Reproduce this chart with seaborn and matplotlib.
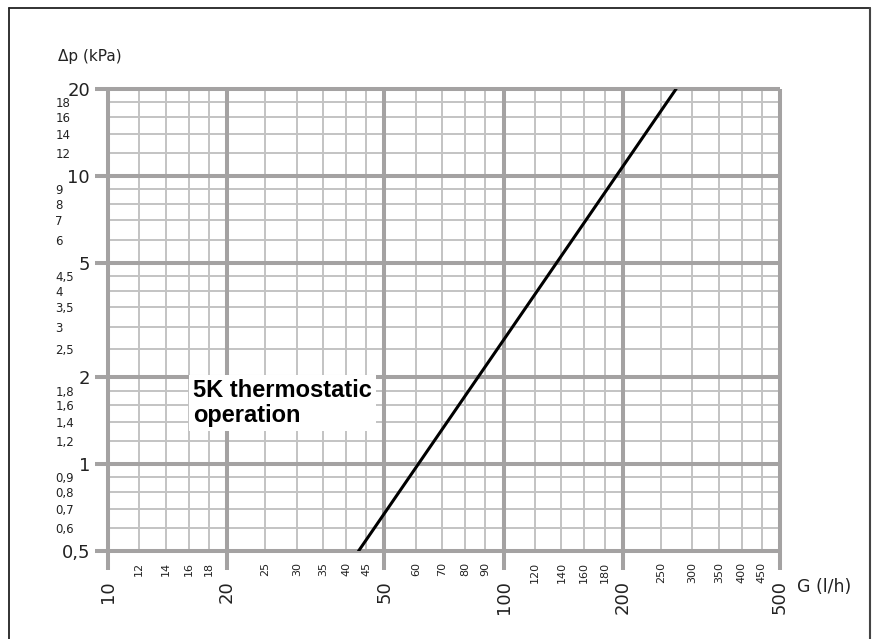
import matplotlib
matplotlib.use("Agg")
import matplotlib.pyplot as plt
import seaborn as sns
import pandas as pd
from matplotlib.lines import Line2D

# ---- data ----
flow_lh = [43.0, 273.0]          # G (l/h)
dp_kpa = [0.5, 20.0]             # Δp (kPa)

x_major = [10, 20, 50, 100, 200, 500]
x_major_labels = ["10", "20", "50", "100", "200", "500"]
x_minor = [12, 14, 16, 18, 25, 30, 35, 40, 45, 60, 70, 80, 90,
           120, 140, 160, 180, 250, 300, 350, 400, 450]
x_minor_labels = ["12", "14", "16", "18", "25", "30", "35", "40", "45", "60", "70", "80", "90",
                  "120", "140", "160", "180", "250", "300", "350", "400", "450"]

y_major = [0.5, 1, 2, 5, 10, 20]
y_major_labels = ["0,5", "1", "2", "5", "10", "20"]
y_minor = [0.6, 0.7, 0.8, 0.9, 1.2, 1.4, 1.6, 1.8, 2.5, 3, 3.5, 4, 4.5,
           6, 7, 8, 9, 12, 14, 16, 18]
y_minor_labels = ["0,6", "0,7", "0,8", "0,9", "1,2", "1,4", "1,6", "1,8", "2,5", "3", "3,5", "4", "4,5",
                  "6", "7", "8", "9", "12", "14", "16", "18"]

curve_label = "5K thermostatic\noperation"
x_title = "G (l/h)"
y_title = "Δp (kPa)"

df = pd.DataFrame({"G": flow_lh, "dp": dp_kpa})

sns.set_style("white")
plt.rcParams["font.family"] = ["DejaVu Sans"]

W, H = 875, 639
fig = plt.figure(figsize=(W / 100, H / 100), dpi=100)
L, R, T, B = 108, 780, 89, 551
ax = fig.add_axes([L / W, (H - B) / H, (R - L) / W, (B - T) / H])

ax.set_xscale("log")
ax.set_yscale("log")
ax.set_xlim(10, 500)
ax.set_ylim(0.5, 20)
for s in ax.spines.values():
    s.set_visible(False)

major_c = "#a4a2a2"
minor_c = "#c3c3c3"
major_lw = 2.9
minor_lw = 1.4

for v in x_minor:
    ax.axvline(v, color=minor_c, lw=minor_lw, zorder=1)
for v in y_minor:
    ax.axhline(v, color=minor_c, lw=minor_lw, zorder=1)
for v in x_major:
    ax.axvline(v, ymin=-0.041, ymax=1.0, color=major_c, lw=major_lw,
               zorder=2, clip_on=False, solid_capstyle="butt")
for v in y_major:
    ax.axhline(v, xmin=-0.019, xmax=1.0, color=major_c, lw=major_lw,
               zorder=2, clip_on=False, solid_capstyle="butt")

sns.lineplot(data=df, x="G", y="dp", ax=ax, color="black", lw=2.2,
             zorder=5, legend=False)
ax.set_xlabel("")
ax.set_ylabel("")

# ticks
ax.set_xticks(x_major)
ax.set_xticklabels(x_major_labels, rotation=90, fontsize=13, va="top", ha="center")
ax.set_xticks(x_minor, minor=True)
ax.set_xticklabels(x_minor_labels, minor=True, rotation=90, fontsize=8, va="top", ha="center")
ax.set_yticks(y_major)
ax.set_yticklabels(y_major_labels, fontsize=13)
ax.set_yticks(y_minor, minor=True)
ax.set_yticklabels(y_minor_labels, minor=True, fontsize=8.5)
for lbl in ax.get_yticklabels(minor=True):
    lbl.set_ha("left")
ax.tick_params(axis="x", which="major", length=0, pad=21, colors="#222222")
ax.tick_params(axis="x", which="minor", length=0, pad=8, colors="#222222")
ax.tick_params(axis="y", which="major", length=0, pad=13, colors="#222222")
ax.tick_params(axis="y", which="minor", length=0, pad=38, colors="#222222")

ax.text(16.4, 1.97, curve_label, fontsize=17, fontweight="bold", color="black",
        family=["Liberation Sans", "DejaVu Sans"], va="top", ha="left",
        linespacing=1.1, zorder=6,
        bbox=dict(facecolor="white", edgecolor="none", pad=3))

fig.text(58 / W, 1 - 57 / H, y_title, fontsize=11, ha="left", va="center", color="#222222")
fig.text(797 / W, 1 - 587 / H, x_title, fontsize=12.5, ha="left", va="center", color="#222222")

# outer frame (top, left, right)
fig.add_artist(Line2D([8.5 / W, 8.5 / W], [0, 1 - 8 / H], transform=fig.transFigure, color="#222222", lw=1.3))
fig.add_artist(Line2D([8.5 / W, 870 / W], [1 - 8 / H, 1 - 8 / H], transform=fig.transFigure, color="#222222", lw=1.3))
fig.add_artist(Line2D([870 / W, 870 / W], [0, 1 - 8 / H], transform=fig.transFigure, color="#444444", lw=1.5))

fig.savefig("out.png", dpi=100)
